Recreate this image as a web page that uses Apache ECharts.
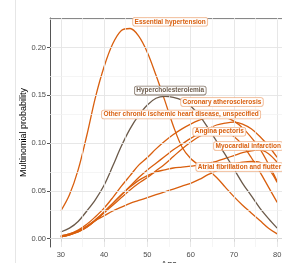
<!DOCTYPE html>
<html>
<head>
<meta charset="UTF-8">
<title>Multinomial probability</title>
<script src="https://cdn.jsdelivr.net/npm/echarts@6/dist/echarts.min.js"></script>
<style>
  html, body { margin: 0; padding: 0; background: #fff; }
  #main { width: 282px; height: 263px; }
</style>
</head>
<body>
<div id="main"></div>
<script type="text/javascript">
// ages of the fitted curves
var ages = [30,32,34,36,38,40,42,44,46,48,50,52,54,56,58,60,62,64,66,68,70,72,74,76,78,80];

// probabilities
var essentialHypertension = [0.029,0.046,0.072,0.108,0.148,0.180,0.204,0.218,0.220,0.212,0.195,0.171,0.145,0.118,0.096,0.084,0.077,0.072,0.064,0.054,0.044,0.035,0.027,0.019,0.011,0.005];
var hypercholesterolemia = [0.007,0.011,0.018,0.029,0.041,0.056,0.076,0.097,0.115,0.129,0.140,0.147,0.149,0.148,0.145,0.139,0.129,0.116,0.102,0.088,0.073,0.058,0.045,0.032,0.021,0.011];
var coronaryAtherosclerosis = [0.003,0.005,0.009,0.015,0.023,0.032,0.043,0.055,0.066,0.077,0.085,0.094,0.102,0.109,0.115,0.120,0.124,0.127,0.128,0.127,0.123,0.116,0.106,0.094,0.078,0.060];
var otherIschemic = [0.003,0.005,0.008,0.013,0.020,0.028,0.037,0.046,0.055,0.064,0.072,0.079,0.086,0.093,0.099,0.105,0.110,0.115,0.119,0.121,0.122,0.120,0.115,0.107,0.097,0.085];
var anginaPectoris = [0.002,0.004,0.007,0.012,0.019,0.027,0.035,0.043,0.051,0.058,0.064,0.071,0.078,0.086,0.094,0.101,0.107,0.111,0.113,0.112,0.107,0.098,0.085,0.070,0.054,0.038];
var myocardialInfarction = [0.002,0.004,0.007,0.012,0.019,0.028,0.037,0.046,0.054,0.061,0.066,0.070,0.072,0.074,0.075,0.076,0.077,0.079,0.081,0.084,0.087,0.090,0.092,0.093,0.089,0.080];
var atrialFibrillation = [0.002,0.004,0.008,0.013,0.019,0.024,0.029,0.033,0.037,0.040,0.043,0.046,0.049,0.052,0.055,0.058,0.062,0.067,0.071,0.075,0.078,0.080,0.081,0.080,0.073,0.059];

// tick values
var xTicks = [30,40,50,60,70,80];
var xMinor = [35,45,55,65,75];
var yTicks = [0,0.05,0.10,0.15,0.20];
var yMinor = [0.025,0.075,0.125,0.175,0.225];

var orange = '#d95f0e';
var brown = '#6b5a4a';

// label anchors (left edge of each label box): [age, probability]
var labelSpots = {
  'Essential hypertension': [46.7, 0.227],
  'Hypercholesterolemia': [47.1, 0.155],
  'Coronary atherosclerosis': [57.8, 0.143],
  'Other chronic ischemic heart disease, unspecified': [39.5, 0.130],
  'Angina pectoris': [60.6, 0.112],
  'Myocardial infarction': [65.4, 0.097],
  'Atrial fibrillation and flutter': [61.3, 0.075]
};

function pairs(vals) {
  var out = [];
  for (var i = 0; i < ages.length; i++) out.push([ages[i], vals[i]]);
  return out;
}

function makeSeries(name, vals, color) {
  return {
    name: name,
    type: 'line',
    smooth: 0.35,
    symbol: 'none',
    data: pairs(vals),
    lineStyle: { color: color, width: 1.3 },
    z: color === brown ? 3 : 2,
    markPoint: {
      symbol: 'rect',
      symbolSize: 0,
      silent: true,
      data: [{ coord: labelSpots[name], value: name }],
      label: {
        show: true,
        position: 'right',
        distance: 0,
        formatter: name,
        color: color,
        fontFamily: 'Liberation Sans',
        fontWeight: 'bold',
        fontSize: 6.5,
        backgroundColor: 'rgba(255,255,255,0.9)',
        borderColor: color === brown ? '#8a7c70' : '#f0b48c',
        borderWidth: 0.8,
        borderRadius: 2,
        padding: [1, 1.5, 0, 1.5]
      }
    }
  };
}

var gridLines = [];
xTicks.forEach(function (v) { gridLines.push({ xAxis: v, lineStyle: { color: '#e4e4e4', width: 0.9 } }); });
xMinor.forEach(function (v) { gridLines.push({ xAxis: v, lineStyle: { color: '#f1f1f1', width: 0.7 } }); });
yTicks.forEach(function (v) { gridLines.push({ yAxis: v, lineStyle: { color: '#e4e4e4', width: 0.9 } }); });
yMinor.forEach(function (v) { gridLines.push({ yAxis: v, lineStyle: { color: '#f1f1f1', width: 0.7 } }); });

var series = [
  {
    type: 'line', data: [], silent: true, z: 1,
    markLine: { symbol: 'none', silent: true, label: { show: false }, lineStyle: { type: 'solid' }, data: gridLines }
  },
  makeSeries('Essential hypertension', essentialHypertension, orange),
  makeSeries('Hypercholesterolemia', hypercholesterolemia, brown),
  makeSeries('Coronary atherosclerosis', coronaryAtherosclerosis, orange),
  makeSeries('Other chronic ischemic heart disease, unspecified', otherIschemic, orange),
  makeSeries('Angina pectoris', anginaPectoris, orange),
  makeSeries('Myocardial infarction', myocardialInfarction, orange),
  makeSeries('Atrial fibrillation and flutter', atrialFibrillation, orange)
];

var myChart = echarts.init(document.getElementById('main'), null, { renderer: 'canvas' });
var option = {
  animation: false,
  backgroundColor: '#fff',
  grid: { left: 50, top: 18, width: 238, height: 229, containLabel: false, outerBoundsMode: 'none' },
  xAxis: [{
    type: 'value', min: 27.5, max: 82.5,
    name: 'Age', nameLocation: 'middle', nameGap: 13, nameMoveOverlap: false,
    nameTextStyle: { color: '#000', fontSize: 9, fontFamily: 'Liberation Sans' },
    axisLine: { show: true, lineStyle: { color: '#555', width: 1 } },
    axisTick: { show: true, length: 3, lineStyle: { color: '#555' }, customValues: xTicks },
    axisLabel: { color: '#4d4d4d', fontSize: 7.5, fontFamily: 'Liberation Sans', margin: 4, customValues: xTicks },
    splitLine: { show: false }
  }, {
    type: 'value', min: 27.5, max: 82.5, position: 'top',
    axisLine: { show: true, lineStyle: { color: '#888', width: 1 } },
    axisTick: { show: false }, axisLabel: { show: false }, splitLine: { show: false }
  }],
  yAxis: {
    type: 'value', min: -0.0087, max: 0.231,
    name: 'Multinomial probability', nameLocation: 'middle', nameGap: 22, nameMoveOverlap: false,
    nameTextStyle: { color: '#000', fontSize: 9, fontFamily: 'Liberation Sans' },
    axisLine: { show: true, lineStyle: { color: '#555', width: 1 } },
    axisTick: { show: true, length: 3, lineStyle: { color: '#555' }, customValues: yTicks },
    axisLabel: {
      color: '#4d4d4d', fontSize: 7.5, fontFamily: 'Liberation Sans', margin: 4,
      customValues: yTicks,
      formatter: function (v) { return v.toFixed(2); }
    },
    splitLine: { show: false }
  },
  graphic: [{
    type: 'line', silent: true,
    shape: { x1: 15.5, y1: 0, x2: 15.5, y2: 263 },
    style: { stroke: '#e6e6e6', lineWidth: 1 }
  }],
  series: series
};
myChart.setOption(option);
</script>
</body>
</html>
